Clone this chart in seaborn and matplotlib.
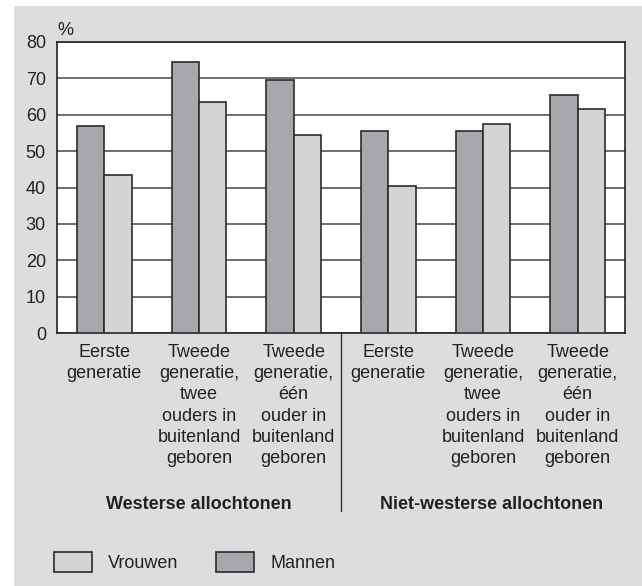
import matplotlib
matplotlib.use('Agg')
import matplotlib.pyplot as plt
import matplotlib.transforms as mtrans
from matplotlib.patches import Rectangle
import seaborn as sns
import pandas as pd

# ---- data ----
groups = ['Westerse allochtonen', 'Niet-westerse allochtonen']
generations = ['Eerste\ngeneratie',
               'Tweede\ngeneratie,\ntwee\nouders in\nbuitenland\ngeboren',
               'Tweede\ngeneratie,\néén\nouder in\nbuitenland\ngeboren']
series = ['Mannen', 'Vrouwen']
mannen = [57, 74.5, 69.5, 55.5, 55.5, 65.5]
vrouwen = [43.5, 63.5, 54.5, 40.5, 57.5, 61.5]
yticks = [0, 10, 20, 30, 40, 50, 60, 70, 80]

sns.set_theme(style='white')
plt.rcParams['font.family'] = ['Liberation Sans', 'DejaVu Sans']
FS = 13

cats = [f'{g}|{lab}' for g in groups for lab in generations]
df = pd.DataFrame({
    'cat': cats * 2,
    'geslacht': [series[0]] * len(cats) + [series[1]] * len(cats),
    'waarde': mannen + vrouwen,
})

W, H = 642, 586
fig = plt.figure(figsize=(W / 100, H / 100), dpi=100, facecolor='white')
fig.patches.append(Rectangle((14 / W, 0), 1, 1 - 6 / H, transform=fig.transFigure,
                             facecolor='#dcdddf', edgecolor='none', zorder=-10))
ax = fig.add_axes([57 / W, (H - 333) / H, 568 / W, 291 / H])
ax.set_facecolor('white')

sns.barplot(data=df, x='cat', y='waarde', hue='geslacht', hue_order=series,
            palette={'Mannen': '#a7a8ab', 'Vrouwen': '#d3d4d6'}, saturation=1,
            width=0.58, edgecolor='#2b2b2b', linewidth=1.2, ax=ax, zorder=3)

ax.set_xlim(-0.5, len(cats) - 0.5)
ax.set_ylim(0, 80)
ax.set_yticks(yticks)
ax.set_yticklabels([str(v) for v in yticks], fontsize=FS, color='#222222')
ax.yaxis.grid(True, color='#555555', linewidth=1.2, zorder=0)
ax.set_axisbelow(True)
ax.set_xticks(range(len(cats)))
ax.set_xticklabels(generations * 2, fontsize=FS, color='#222222', linespacing=1.32)
ax.tick_params(axis='x', length=0, pad=8)
ax.tick_params(axis='y', length=0, pad=8)
ax.set_xlabel('')
ax.set_ylabel('')
for s in ax.spines.values():
    s.set_visible(True)
    s.set_color('#222222')
    s.set_linewidth(1.2)

ax.text(0, 1.012, '%', transform=ax.transAxes, ha='left', va='bottom',
        fontsize=FS, color='#222222')

blend = mtrans.blended_transform_factory(ax.transData, ax.transAxes)
ax.plot([2.5, 2.5], [0, -0.612], transform=blend, clip_on=False,
        color='#333333', linewidth=1)
ax.text(1.0, -0.591, groups[0], transform=blend, ha='center', va='center',
        fontsize=FS, fontweight='bold', color='#222222')
ax.text(4.09, -0.591, groups[1], transform=blend, ha='center', va='center',
        fontsize=FS, fontweight='bold', color='#222222')

handles, labels = ax.get_legend_handles_labels()
ax.get_legend().remove()
order = [labels.index('Vrouwen'), labels.index('Mannen')]
fig.legend([handles[i] for i in order], [labels[i] for i in order],
           loc='center left', bbox_to_anchor=(54 / W, 1 - 562 / H), ncol=2,
           frameon=False, fontsize=FS, handlelength=2.1, handleheight=1.3,
           handletextpad=0.9, columnspacing=2.1, borderpad=0, borderaxespad=0,
           labelcolor='#222222')

fig.savefig('out.png', dpi=100, facecolor=fig.get_facecolor())
